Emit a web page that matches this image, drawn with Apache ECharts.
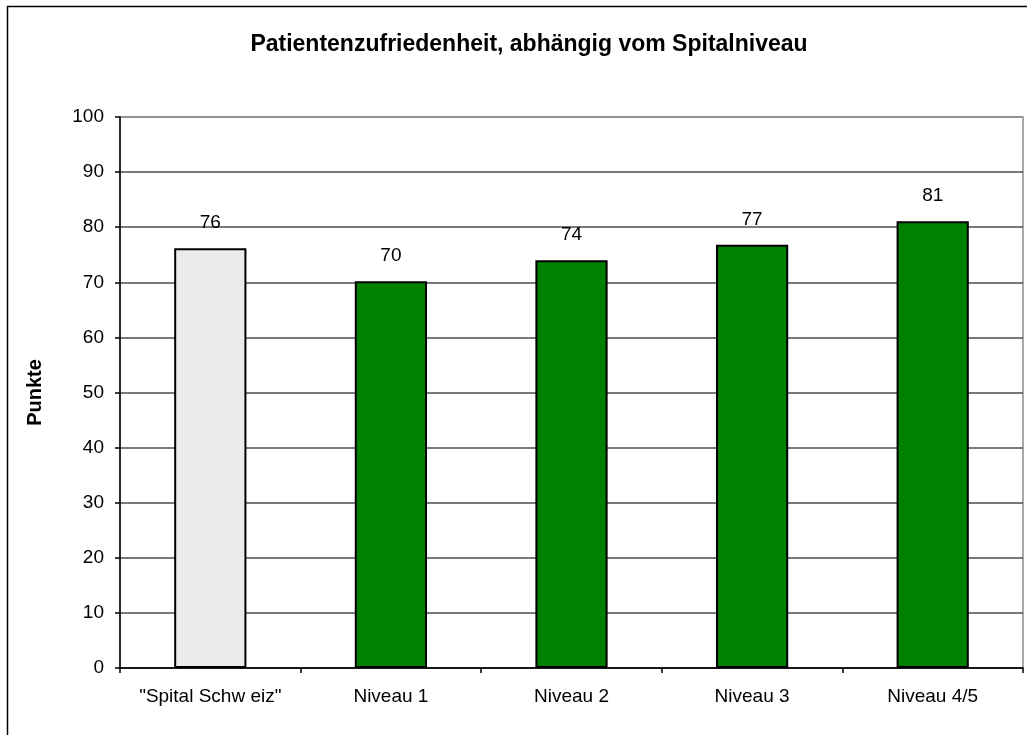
<!DOCTYPE html>
<html>
<head>
<meta charset="utf-8">
<script src="https://cdn.jsdelivr.net/npm/echarts@6/dist/echarts.min.js"></script>
<style>
  html, body { margin: 0; padding: 0; background: #fff; }
  #main { width: 1027px; height: 735px; }
</style>
</head>
<body>
<div id="main"></div>
<script>
// categories and values
let categories = ['"Spital Schw eiz"', 'Niveau 1', 'Niveau 2', 'Niveau 3', 'Niveau 4/5']
let values = [76.2, 70.2, 74.0, 76.8, 81.1]
let barColors = ['#ebebeb', '#008000', '#008000', '#008000', '#008000']

let yMin = 0, yMax = 100, yStep = 10

// gridline colors: top line (100) lighter like the plot-area border
let splitColors = []
for (let v = yMin; v <= yMax; v += yStep) {
  splitColors.push(v == yMax ? '#8c8c8c' : '#4d4d4d')
}

const chart = echarts.init(document.getElementById('main'), null, { renderer: 'canvas' })

let option = {
  backgroundColor: '#fff',
  animation: false,
  title: {
    text: 'Patientenzufriedenheit, abhängig vom Spitalniveau',
    left: 524,
    top: 28,
    textAlign: 'center',
    textStyle: {
      fontFamily: 'Liberation Sans, Arial',
      fontSize: 23,
      fontWeight: 'bold',
      color: '#000'
    }
  },
  graphic: [{
    type: 'rect',
    shape: { x: 7.5, y: 6.5, width: 1040, height: 760 },
    style: { fill: 'none', stroke: '#000', lineWidth: 1.5 },
    silent: true
  }],
  grid: {
    left: 120,
    right: 4,
    top: 117,
    bottom: 67,
    show: true,
    borderColor: '#8c8c8c',
    borderWidth: 1.5,
    backgroundColor: 'transparent'
  },
  xAxis: {
    type: 'category',
    data: categories,
    axisLine: { lineStyle: { color: '#000', width: 1.5 } },
    axisTick: { show: true, interval: 0, length: 5, lineStyle: { color: '#000', width: 1.5 } },
    axisLabel: {
      interval: 0,
      hideOverlap: false,
      margin: 19,
      fontFamily: 'Liberation Sans, Arial',
      fontSize: 19,
      color: '#000'
    }
  },
  yAxis: {
    type: 'value',
    min: yMin,
    max: yMax,
    interval: yStep,
    name: 'Punkte',
    nameLocation: 'middle',
    nameRotate: 90,
    nameGap: 75,
    nameTextStyle: {
      fontFamily: 'Liberation Sans, Arial',
      fontSize: 20,
      fontWeight: 'bold',
      color: '#000'
    },
    axisLine: { show: true, lineStyle: { color: '#000', width: 1.5 } },
    axisTick: { show: true, length: 5, lineStyle: { color: '#000', width: 1.5 } },
    axisLabel: {
      margin: 16,
      fontFamily: 'Liberation Sans, Arial',
      fontSize: 19,
      color: '#000'
    },
    splitLine: { lineStyle: { color: splitColors, width: 1.5 } }
  },
  series: [{
    type: 'bar',
    barWidth: '40%',
    data: values.map((v, i) => ({
      value: v,
      itemStyle: { color: barColors[i] }
    })),
    itemStyle: { borderColor: '#000', borderWidth: 2 },
    label: {
      show: true,
      position: 'top',
      distance: 16,
      formatter: p => Math.round(p.value),
      fontFamily: 'Liberation Sans, Arial',
      fontSize: 19,
      color: '#000'
    }
  }]
}

chart.setOption(option)
</script>
</body>
</html>
